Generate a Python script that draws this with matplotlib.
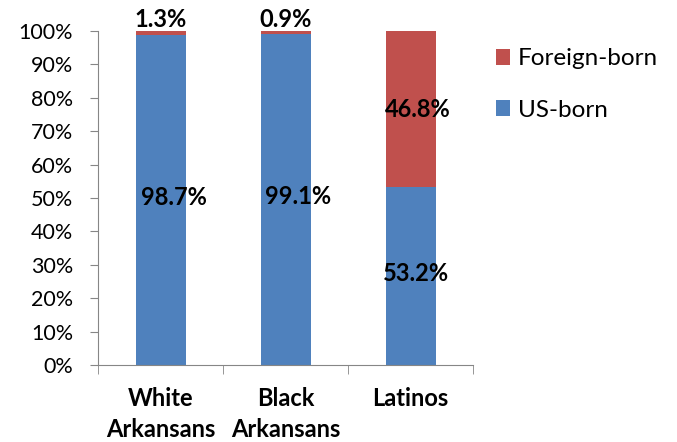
import matplotlib
matplotlib.use("Agg")
import matplotlib.pyplot as plt
import numpy as np

categories = ["White\nArkansans", "Black\nArkansans", "Latinos"]
us_born = [98.7, 99.1, 53.2]
foreign_born = [1.3, 0.9, 46.8]
yticks = [0, 10, 20, 30, 40, 50, 60, 70, 80, 90, 100]

# label nudges in pixels (styling only)
us_dx = [13, 13, 5]
fb_dx = [0, 0, 7]

plt.rcParams['font.family'] = ['Lato', 'DejaVu Sans']

fig = plt.figure(figsize=(6.77, 4.42), dpi=100)
ax = fig.add_axes([0.1448, 0.1742, 0.5539, 0.7557])

x = np.arange(len(categories))
blue = "#4F81BD"
red = "#C0504D"
b1 = ax.bar(x, us_born, width=0.4, color=blue, label="US-born")
b2 = ax.bar(x, foreign_born, width=0.4, bottom=us_born, color=red, label="Foreign-born")

lab_fs = 17
for i in range(len(categories)):
    ax.annotate(f"{us_born[i]:.1f}%", (x[i], us_born[i] / 2), xytext=(us_dx[i], 3),
                textcoords="offset pixels", ha="center", va="center",
                fontsize=lab_fs, fontweight="bold", color="black")
    if foreign_born[i] < 5:
        ax.annotate(f"{foreign_born[i]:.1f}%", (x[i], 100), xytext=(fb_dx[i], 0),
                    textcoords="offset pixels", ha="center", va="bottom",
                    fontsize=lab_fs, fontweight="bold", color="black")
    else:
        ax.annotate(f"{foreign_born[i]:.1f}%", (x[i], us_born[i] + foreign_born[i] / 2),
                    xytext=(fb_dx[i], 0), textcoords="offset pixels",
                    ha="center", va="center", fontsize=lab_fs, fontweight="bold", color="black")

ax.set_xlim(-0.5, len(categories) - 0.5)
ax.set_ylim(0, 100)
ax.set_yticks(yticks)
ax.set_yticklabels([f"{v}%" for v in yticks], fontsize=15.5)
ax.set_xticks(x)
ax.set_xticklabels(categories, fontsize=17, fontweight="bold", linespacing=1.4)
ax.tick_params(axis="x", length=0, pad=16)
ax.set_xticks(np.arange(-0.5, len(categories), 1.0), minor=True)
ax.tick_params(axis="x", which="minor", length=6.5, color="#868686")
ax.tick_params(axis="y", length=6, color="#868686", pad=12)
for s in ["top", "right"]:
    ax.spines[s].set_visible(False)
for s in ["left", "bottom"]:
    ax.spines[s].set_color("#868686")

handles = [b2, b1]
fig.legend(handles, ["Foreign-born", "US-born"], loc="upper left",
           bbox_to_anchor=(0.70, 0.94), frameon=False, fontsize=17.5,
           handlelength=0.6, handleheight=0.6, handletextpad=0.3, labelspacing=1.25)

fig.savefig("out.png", dpi=100)
